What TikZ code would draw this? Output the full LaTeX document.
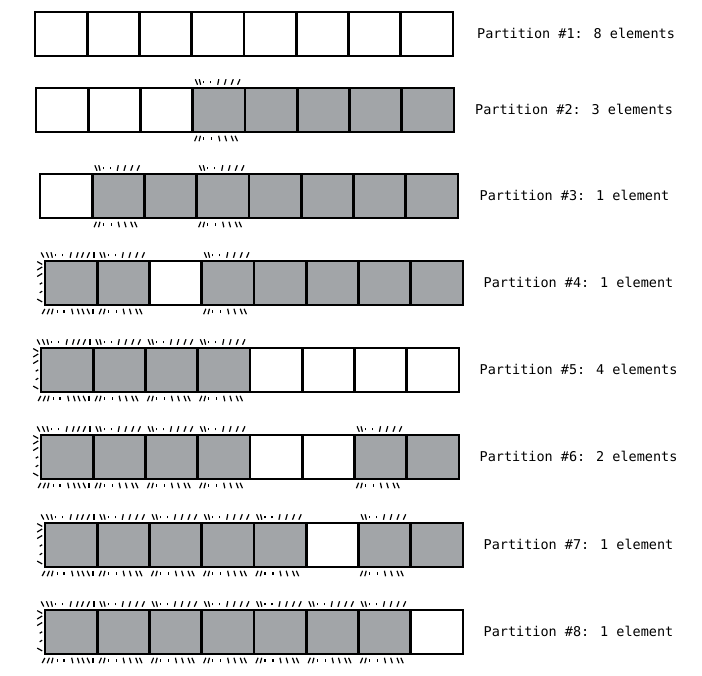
\documentclass[tikz,border=0pt]{standalone}
\usepackage{fontspec}
\newfontfamily\monofont{DejaVu Sans Mono}
\definecolor{gcol}{RGB}{162,165,168}
\tikzset{
 cell/.style={draw=black, line width=2.6pt, rectangle, minimum width=52.25pt, minimum height=44pt, inner sep=0pt, outer sep=0pt},
 tick/.style={draw=black, line width=1.2pt},
 plabel/.style={anchor=base west, inner sep=0pt, font=\monofont\fontsize{13.5}{16}\selectfont},
}
% tick helpers: node, offset, lean, length
\newcommand{\tkTop}[4]{\draw[tick] ([shift={({#2-0.5*(#3)},{6-0.5*(#4)})}]#1.north west) -- ([shift={({#2+0.5*(#3)},{6+0.5*(#4)})}]#1.north west);}
\newcommand{\tkBot}[4]{\draw[tick] ([shift={({#2-0.5*(#3)},{-6.5+0.5*(#4)})}]#1.south west) -- ([shift={({#2+0.5*(#3)},{-6.5-0.5*(#4)})}]#1.south west);}
\newcommand{\tkLeft}[4]{\draw[tick] ([shift={(-2.8,{-(#2)+0.5*(#3)})}]#1.north west) -- ([shift={({-2.8-(#4)},{-(#2)-0.5*(#3)})}]#1.north west);}
\newcommand{\ticksN}[1]{%
 \foreach \tO/\tD/\tL in {3.7/-2.2/5.5, 7.2/-1.4/5.5, 11/0/2.8, 18/0/2.8, 25.5/1.2/5.5, 32.5/1.6/5.5, 39.5/2/5.5, 46/2.4/5.5}{\tkTop{#1}{\tO}{\tD}{\tL}}
 \foreach \tO/\tD/\tL in {3/-2.2/5.5, 7/-1.4/5.5, 11/0/2.8, 19/0/2.8, 26.5/1.2/5.5, 33/1.6/5.5, 39.5/2/5.5, 43.5/2.4/5.5}{\tkBot{#1}{\tO}{\tD}{\tL}}
}
\newcommand{\ticksF}[1]{%
 \foreach \tO/\tD/\tL in {-2.5/-2.6/5, 2.5/-2.2/5.5, 6.7/-1.4/5.5, 10.8/0/2.8, 17.3/0/2.8, 25.7/1.2/5.5, 32.3/1.6/5.5, 37.5/2/5.5, 43.3/2.4/5.5, 49/0/5.5}{\tkTop{#1}{\tO}{\tD}{\tL}}
 \foreach \tO/\tD/\tL in {-1.5/-2.6/5, 3.3/-2.2/5.5, 7.3/-1.4/5.5, 12.3/0/2.8, 19/0/2.8, 27.3/1.2/5.5, 33.3/1.6/5.5, 38/2/5.5, 43.3/2.4/5.5, 48/0/5.5}{\tkBot{#1}{\tO}{\tD}{\tL}}
 \foreach \tO/\tD/\tL in {2/-2.8/5, 7.5/3/5, 14/3/5, 22.5/1.5/2.5, 31/1.5/2.5, 39.5/-2.8/5}{\tkLeft{#1}{\tO}{\tD}{\tL}}
}
% row: id, left, top, fills, label x, text
\newcommand{\prow}[6]{%
 \foreach \f [count=\j] in {#4} {\node[cell, fill=\f] (r#1b\j) at ({#2+(\j-0.5)*52.25},{-#3-22}) {};}
 \node[plabel] (lab#1) at (#5,{-#3-22-4.8}) {#6};
}
\newcommand{\prowticks}[2]{%
 \foreach \j in {#2} {\ifnum\j=1 \ticksF{r#1b\j}\else \ticksN{r#1b\j}\fi}
}
\begin{document}
\begin{tikzpicture}[x=1pt,y=1pt]
\useasboundingbox[fill=white] (0,0) rectangle (702,-676);
\prow{1}{35}{12}{white,white,white,white,white,white,white,white}{477}{Partition \#1: 8 elements}
\prow{2}{36}{88}{white,white,white,gcol,gcol,gcol,gcol,gcol}{475}{Partition \#2: 3 elements}
\prowticks{2}{4}
\prow{3}{40}{174}{white,gcol,gcol,gcol,gcol,gcol,gcol,gcol}{479.5}{Partition \#3: 1 element}
\prowticks{3}{2,4}
\prow{4}{45}{261}{gcol,gcol,white,gcol,gcol,gcol,gcol,gcol}{483.5}{Partition \#4: 1 element}
\prowticks{4}{1,2,4}
\prow{5}{41}{348}{gcol,gcol,gcol,gcol,white,white,white,white}{479.5}{Partition \#5: 4 elements}
\prowticks{5}{1,2,3,4}
\prow{6}{41}{435}{gcol,gcol,gcol,gcol,white,white,gcol,gcol}{479.5}{Partition \#6: 2 elements}
\prowticks{6}{1,2,3,4,7}
\prow{7}{45}{523}{gcol,gcol,gcol,gcol,gcol,white,gcol,gcol}{483.5}{Partition \#7: 1 element}
\prowticks{7}{1,2,3,4,5,7}
\prow{8}{45}{610}{gcol,gcol,gcol,gcol,gcol,gcol,gcol,white}{483.5}{Partition \#8: 1 element}
\prowticks{8}{1,2,3,4,5,6,7}
\end{tikzpicture}
\end{document}
